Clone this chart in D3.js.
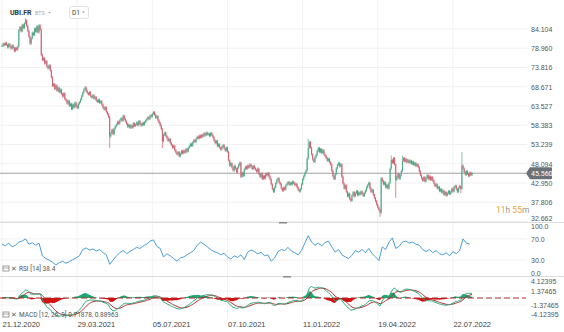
<!DOCTYPE html>
<html>
<head>
<meta charset="utf-8">
<script src="https://cdn.jsdelivr.net/npm/d3@7"></script>
<style>
  html, body { margin: 0; padding: 0; background: #fff; }
  svg { display: block; font-family: Roboto, "Open Sans", sans-serif; }
</style>
</head>
<body>
<svg id="chart" width="564" height="332"></svg>
<script>
// Daily closing prices of UBI.FR, oldest first
const closes = [
  79.6, 80.2, 79.8, 80.4, 79.9, 79.2, 80.1, 79.5, 78.9, 79.7,
  79.1, 78.2, 79.0, 78.6, 79.4,
  83.8, 84.6, 83.5, 85.2, 84.4, 85.6, 86.4, 84.9, 83.6, 82.1, 80.2,
  81.6, 83.1, 82.5, 84.2, 83.4, 84.8, 83.2, 85.1, 84.0,
  77.2, 75.8, 76.3, 74.9, 75.5, 74.1, 73.6, 74.4, 73.0,
  71.2, 68.9, 69.4, 68.1, 69.0, 67.6, 68.4, 67.2, 67.9,
  66.8, 66.1, 66.9, 65.4, 65.0, 64.2, 64.9, 63.6, 64.1, 62.7,
  63.9, 63.2, 64.4, 63.5, 63.0, 64.1, 64.6, 65.3,
  66.2, 67.1, 67.9, 68.5,
  67.6, 67.0, 66.6, 67.2, 66.1, 65.8, 66.4, 65.5, 65.9, 65.0, 64.6, 65.2, 64.4, 64.8,
  63.9, 63.1, 62.6, 63.2, 61.9, 61.3, 60.6,
  55.4, 56.3, 57.2, 56.0, 57.5, 58.1,
  58.6, 59.3, 58.8, 59.7, 60.2, 59.6, 60.9, 60.1, 59.4,
  58.8, 58.0, 58.5, 57.7, 58.3, 57.8, 58.9, 58.2, 58.6,
  59.1, 58.4, 59.5, 58.7, 58.3, 59.0, 58.5, 59.2, 59.6,
  60.0, 60.5, 60.1, 61.0, 60.7, 61.4, 61.9,
  61.2, 60.4, 60.8, 59.7, 59.0, 58.3, 57.4,
  54.1, 55.8, 56.4, 55.5, 55.0, 54.2, 54.7, 53.6,
  53.0, 52.4, 52.9, 51.7, 51.1, 50.6, 51.2, 50.1,
  50.8, 51.5, 50.9, 51.6, 51.1, 52.0, 51.4, 52.3, 52.8, 53.4,
  52.9, 53.8, 54.4, 53.9, 54.8, 55.3, 54.9, 55.6, 55.1,
  55.8, 55.4, 56.2, 55.7, 56.4, 55.9, 56.1, 55.5, 56.3, 55.8, 55.2,
  54.3, 53.6, 54.2, 52.8, 53.3, 52.4, 51.9,
  52.6, 53.1, 52.2, 51.6, 52.4, 51.3,
  49.0, 47.6, 48.2,
  47.1, 46.3, 47.5, 46.8, 45.9, 47.0, 47.8, 48.4,
  44.6, 45.7, 44.9, 46.6, 47.3,
  46.8, 47.6, 47.1, 47.9, 47.4, 46.7, 47.5, 46.9, 46.5,
  46.0, 46.8, 45.3, 44.6, 45.5, 44.0, 44.8, 44.2, 45.4,
  45.0, 45.6, 44.7, 43.9,
  42.6, 41.3, 40.6, 41.8, 42.9,
  43.8, 44.2, 43.1, 42.6,
  41.5, 40.9, 41.7, 41.2, 42.3,
  42.8, 43.2, 42.5, 43.0, 42.6, 43.3, 42.9, 42.4, 42.7,
  41.8, 41.1, 40.7, 41.4,
  42.6, 43.9, 44.8, 45.6, 46.3,
  49.5, 52.3, 53.9,
  52.4, 50.6, 49.2, 48.6, 49.8, 50.5,
  51.6, 52.3, 51.2, 52.0, 51.0, 51.7, 50.6, 50.2,
  49.6, 48.9, 49.4, 48.5, 47.9,
  46.2, 44.8, 44.0, 45.3,
  46.9, 47.8, 48.3, 47.4, 47.9,
  44.6, 42.8, 41.5, 42.3,
  40.6, 39.4, 40.1, 38.7, 38.2,
  39.6, 40.5, 39.4, 40.2, 40.8, 39.7, 40.4, 39.9, 40.7, 40.1, 39.5, 40.3, 40.9,
  41.8, 42.4, 43.0,
  41.5, 40.6, 41.1, 39.8, 38.9, 38.1, 37.2, 36.4, 35.8, 35.0,
  44.2, 43.5, 42.6, 43.1, 41.8, 42.4, 41.5, 43.0,
  46.8, 49.1, 48.3, 49.6, 47.9,
  43.8, 44.6, 45.4, 44.1, 45.0, 46.2,
  48.9, 49.6, 48.7, 49.3, 48.5, 49.0,
  48.4, 48.9, 48.1, 48.6, 47.8, 48.3, 47.5, 47.9, 47.2,
  46.1, 45.0, 44.2, 43.6, 44.5, 43.4,
  44.3, 45.0, 44.0, 44.7, 43.8, 44.5, 43.6,
  42.8, 42.1, 42.6, 41.5, 41.9, 40.8, 41.3,
  40.4, 40.9, 39.8, 40.5, 39.6, 40.2, 40.8, 40.0, 40.6,
  41.4, 40.7, 41.9, 42.2, 41.3, 40.6, 41.6, 42.1, 41.4,
  47.6,
  46.8, 45.9, 45.2, 46.1, 45.4, 44.8, 45.7, 45.1, 45.56
];

// Sessions whose wicks reach well beyond the body: [day index, price]
const wickHighs = [[21, 87.0], [273, 54.8], [347, 50.3], [357, 50.2], [410, 51.2]];
const wickLows  = [[96, 52.3], [143, 52.3], [337, 33.9], [351, 39.0], [409, 40.2]];

const lastPrice = 45.560;

// RSI(14), sampled every third session
const rsiStep = 3;
const rsiValues = [
  60, 57, 62, 55, 58, 64, 66, 70, 60, 63,
  58, 62, 38, 33, 30, 26, 21, 25, 28, 24,
  27, 31, 34, 38, 50, 53, 49, 51, 47, 50,
  44, 40, 22, 30, 38, 44, 48, 42, 46, 50,
  54, 52, 57, 60, 66, 68, 56, 52, 36, 42,
  38, 33, 28, 34, 36, 40, 44, 48, 58, 64,
  60, 55, 50, 46, 44, 40, 43, 36, 32, 38,
  35, 40, 31, 45, 49, 46, 42, 45, 38, 40,
  28, 34, 46, 50, 48, 54, 47, 44, 40, 48,
  62, 76, 64, 58, 62, 57, 63, 66, 55, 45,
  50, 40, 36, 33, 39, 48, 45, 50, 44, 52,
  42, 36, 29, 55, 50, 64, 72, 52, 56, 64,
  66, 62, 64, 60, 58, 50, 46, 50, 44, 48,
  42, 40, 44, 38, 46, 42, 48, 70, 62, 60
];

// Axis labels
const dateTickIndex = [0, 67, 134, 201, 268, 335, 402];
const dateTickLabels = ["21.12.2020", "29.03.2021", "05.07.2021", "07.10.2021", "11.01.2022", "19.04.2022", "22.07.2022"];
const priceTicks = [84.104, 78.960, 73.816, 68.671, 63.527, 58.383, 53.239, 48.094, 42.950, 37.806, 32.662];
const rsiTicks = [100, 70, 30, 0];
const macdTicks = [4.12395, 1.37465, -1.37465, -4.12395];

// ---- layout ----
const W = 564, H = 332;
const plotLeft = 2, plotRight = 472, gridRight = 527;
const price = { top: 29, bottom: 221.5 };
const rsiBox = { top: 223, bottom: 276 };
const macdBox = { top: 277, bottom: 319 };

const UP = "#4fa886", DOWN = "#cc6070";

const svg = d3.select("#chart");

const x = d3.scaleLinear().domain([0, closes.length - 1]).range([plotLeft, plotRight]);
const y = d3.scaleLinear().domain([32.662, 84.104]).range([price.bottom, price.top]);
const yRsi = d3.scaleLinear().domain([0, 100]).range([rsiBox.bottom, rsiBox.top]);
const yMacd = d3.scaleLinear().domain([-4.12395, 4.12395]).range([macdBox.bottom, macdBox.top]);

// ---- OHLC from closes (open = previous close) ----
const hiMap = new Map(wickHighs), loMap = new Map(wickLows);
const candles = closes.map((c, i) => {
  const o = i === 0 ? c : closes[i - 1];
  const h = hiMap.has(i) ? hiMap.get(i) : Math.max(o, c) + 0.3;
  const l = loMap.has(i) ? loMap.get(i) : Math.min(o, c) - 0.3;
  return { i, o, h, l, c };
});

// ---- MACD(12, 26, 9) ----
function ema(values, n) {
  const k = 2 / (n + 1);
  const out = [];
  values.forEach((v, i) => out.push(i === 0 ? v : v * k + out[i - 1] * (1 - k)));
  return out;
}
const e12 = ema(closes, 12), e26 = ema(closes, 26);
const macdVals = e12.map((v, i) => v - e26[i]);
const signalVals = ema(macdVals, 9);
const histVals = macdVals.map((v, i) => v - signalVals[i]);

// ---- grid ----
const grid = svg.append("g");
grid.selectAll("line.h").data(priceTicks).join("line")
  .attr("x1", 0).attr("x2", gridRight)
  .attr("y1", d => y(d)).attr("y2", d => y(d))
  .attr("stroke", "#f1f1f1").attr("stroke-width", 1);
grid.selectAll("line.r").data([70, 30]).join("line")
  .attr("x1", 0).attr("x2", gridRight)
  .attr("y1", d => yRsi(d)).attr("y2", d => yRsi(d))
  .attr("stroke", "#f1f1f1");
grid.selectAll("line.m").data([1.37465, -1.37465]).join("line")
  .attr("x1", 0).attr("x2", gridRight)
  .attr("y1", d => yMacd(d)).attr("y2", d => yMacd(d))
  .attr("stroke", "#f1f1f1");
grid.selectAll("line.v").data(dateTickIndex).join("line")
  .attr("x1", d => x(d)).attr("x2", d => x(d))
  .attr("y1", 0).attr("y2", macdBox.bottom)
  .attr("stroke", "#f2f2f2");

// panel separators
[222.5, 276.5].forEach(yy => {
  svg.append("line").attr("x1", 0).attr("x2", W).attr("y1", yy).attr("y2", yy)
    .attr("stroke", "#dcdcdc");
});
// resize handles
[[283, 222.5], [287, 276.5]].forEach(([hx, hy]) => {
  svg.append("rect").attr("x", hx - 4).attr("y", hy - 0.5).attr("width", 8).attr("height", 1.5)
    .attr("fill", "#8a8a8a");
});

// ---- last price line ----
svg.append("line")
  .attr("x1", 0).attr("x2", 526)
  .attr("y1", y(lastPrice)).attr("y2", y(lastPrice))
  .attr("stroke", "#a0a0a0").attr("stroke-width", 1);

// ---- candles ----
const cg = svg.append("g");
cg.selectAll("line").data(candles).join("line")
  .attr("x1", d => x(d.i)).attr("x2", d => x(d.i))
  .attr("y1", d => y(d.h)).attr("y2", d => y(d.l))
  .attr("stroke", d => d.c >= d.o ? UP : DOWN)
  .attr("stroke-width", 0.7);
cg.selectAll("rect").data(candles).join("rect")
  .attr("x", d => x(d.i) - 0.5)
  .attr("width", 1)
  .attr("y", d => y(Math.max(d.o, d.c)))
  .attr("height", d => Math.max(0.8, Math.abs(y(d.o) - y(d.c))))
  .attr("fill", d => d.c >= d.o ? UP : DOWN);

// ---- RSI ----
svg.append("path")
  .datum(rsiValues.map((v, k) => [k * rsiStep, v]))
  .attr("fill", "none").attr("stroke", "#4a9fd6").attr("stroke-width", 1)
  .attr("d", d3.line().x(d => x(d[0])).y(d => yRsi(d[1])));

// ---- MACD ----
const mg = svg.append("g");
const clipId = "macdClip";
svg.append("clipPath").attr("id", clipId).append("rect")
  .attr("x", 0).attr("y", macdBox.top).attr("width", W).attr("height", macdBox.bottom - macdBox.top);
mg.attr("clip-path", `url(#${clipId})`);
const histPts = histVals.map((v, i) => [i, v]);
mg.append("path").datum(histPts)
  .attr("fill", "#1fa675")
  .attr("d", d3.area().x(d => x(d[0])).y0(yMacd(0)).y1(d => yMacd(Math.max(0, d[1]))));
mg.append("path").datum(histPts)
  .attr("fill", "#d40f0f")
  .attr("d", d3.area().x(d => x(d[0])).y0(yMacd(0)).y1(d => yMacd(Math.min(0, d[1]))));
mg.append("path").datum(signalVals.map((v, i) => [i, v]))
  .attr("fill", "none").attr("stroke", "#a5302d").attr("stroke-width", 1)
  .attr("d", d3.line().x(d => x(d[0])).y(d => yMacd(d[1])));
mg.append("path").datum(macdVals.map((v, i) => [i, v]))
  .attr("fill", "none").attr("stroke", "#2aa97a").attr("stroke-width", 1)
  .attr("d", d3.line().x(d => x(d[0])).y(d => yMacd(d[1])));
// dashed zero line
mg.append("line").attr("x1", 0).attr("x2", 526)
  .attr("y1", yMacd(0)).attr("y2", yMacd(0))
  .attr("stroke", "#b22a2a").attr("stroke-width", 1).attr("stroke-dasharray", "6,3");

// ---- axes ----
const axisText = sel => sel.selectAll("text").attr("fill", "#555").style("font-size", "7px");
const clean = g => { g.select(".domain").remove(); g.selectAll(".tick line").remove(); };

const pAxis = svg.append("g").attr("transform", "translate(527,0)")
  .call(d3.axisRight(y).tickValues(priceTicks).tickFormat(d => d.toFixed(3)).tickSize(0).tickPadding(4));
clean(pAxis); axisText(pAxis);
pAxis.selectAll(".tick").filter(d => d === 32.662).select("text").attr("dy", "-0.1em");

const rAxis = svg.append("g").attr("transform", "translate(527,0)")
  .call(d3.axisRight(yRsi).tickValues(rsiTicks).tickFormat(d => d.toFixed(1)).tickSize(0).tickPadding(4));
clean(rAxis); axisText(rAxis);
rAxis.selectAll(".tick").filter(d => d === 100).select("text").attr("dy", "0.8em");
rAxis.selectAll(".tick").filter(d => d === 0).select("text").attr("dy", "-0.1em");

const mAxis = svg.append("g").attr("transform", "translate(527,0)")
  .call(d3.axisRight(yMacd).tickValues(macdTicks).tickFormat(d => d.toFixed(5)).tickSize(0).tickPadding(4));
clean(mAxis); axisText(mAxis);
mAxis.selectAll(".tick").filter(d => d > 4).select("text").attr("dy", "0.9em");
mAxis.selectAll(".tick").filter(d => d < -4).select("text").attr("dy", "-0.3em");

const xAxis = svg.append("g").attr("transform", "translate(0,320)")
  .call(d3.axisBottom(x).tickValues(dateTickIndex).tickFormat((d, i) => dateTickLabels[i]).tickSize(0).tickPadding(2));
clean(xAxis);
xAxis.selectAll("text").attr("text-anchor", "start").attr("fill", "#444").style("font-size", "7.5px");

// ---- last price tag ----
const ly = y(lastPrice);
svg.append("path")
  .attr("d", `M526,${ly} L530,${ly - 6} L551,${ly - 6} Q552,${ly - 6} 552,${ly - 5} L552,${ly + 5} Q552,${ly + 6} 551,${ly + 6} L530,${ly + 6} Z`)
  .attr("fill", "#6c7177");
svg.append("text").attr("x", 531).attr("y", ly + 2.5)
  .attr("fill", "#fff").style("font-size", "7px").text(lastPrice.toFixed(3));

// ---- countdown ----
const cd = svg.append("text").attr("x", 496).attr("y", 213).style("font-size", "8.5px");
cd.append("tspan").attr("fill", "#e9a43c").text("11");
cd.append("tspan").attr("fill", "#999").text("h ");
cd.append("tspan").attr("fill", "#e9a43c").text("55");
cd.append("tspan").attr("fill", "#999").text("m");

// ---- header ----
svg.append("text").attr("x", 10).attr("y", 15).attr("fill", "#333")
  .style("font-size", "7px").style("font-weight", "bold").text("UBI.FR");
svg.append("text").attr("x", 35).attr("y", 15).attr("fill", "#aaa")
  .style("font-size", "5.5px").text("BTS");
svg.append("path").attr("d", "M48,12 L51,12 L49.5,13.6 Z").attr("fill", "#aaa");
svg.append("rect").attr("x", 69.5).attr("y", 6.5).attr("width", 19).attr("height", 12).attr("rx", 2)
  .attr("fill", "#fff").attr("stroke", "#e2e2e2");
svg.append("text").attr("x", 72).attr("y", 15).attr("fill", "#444")
  .style("font-size", "6.5px").text("D1");
svg.append("path").attr("d", "M82,11.5 L85,11.5 L83.5,13.1 Z").attr("fill", "#999");

// ---- indicator legends ----
function legend(yy, label) {
  const g = svg.append("g").attr("transform", `translate(3,${yy})`);
  g.append("rect").attr("x", 0).attr("y", -5).attr("width", 6).attr("height", 5)
    .attr("fill", "none").attr("stroke", "#777").attr("stroke-width", 0.7);
  g.append("line").attr("x1", 0).attr("x2", 6).attr("y1", -3).attr("y2", -3).attr("stroke", "#777").attr("stroke-width", 0.6);
  g.append("text").attr("x", 8).attr("y", 0).attr("fill", "#666").style("font-size", "6.5px").text("✕");
  g.append("text").attr("x", 16).attr("y", 0).attr("fill", "#555").style("font-size", "6.5px").text(label);
}
legend(271, "RSI [14]  38.4");
legend(317, "MACD [12, 26, 9]  0.71878,  0.88963");
</script>
</body>
</html>
